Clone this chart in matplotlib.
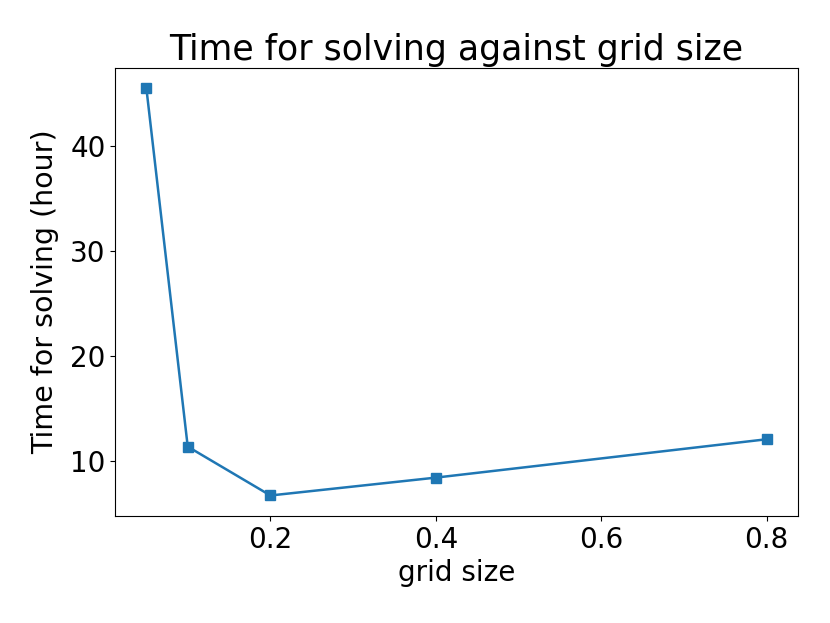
import matplotlib
matplotlib.use('Agg')
import matplotlib.pyplot as plt

# grid sizes and solve times
grid_size = [0.05, 0.1, 0.2, 0.4, 0.8]
solve_hours = [45.5, 11.4, 6.75, 8.45, 12.1]

fig = plt.figure(figsize=(8.3, 6.23), dpi=100)
ax = fig.add_axes([0.139, 0.172, 0.822, 0.719])

ax.plot(grid_size, solve_hours, marker='s', markersize=7, color='#1f77b4', linewidth=1.8)

ax.set_xticks([0.2, 0.4, 0.6, 0.8])
ax.set_yticks([10, 20, 30, 40])
ax.tick_params(labelsize=20)
ax.set_xlabel('grid size', fontsize=20)
ax.set_ylabel('Time for solving (hour)', fontsize=20.5, labelpad=8)
ax.set_title('Time for solving against grid size', fontsize=25)

plt.savefig('out.png')
